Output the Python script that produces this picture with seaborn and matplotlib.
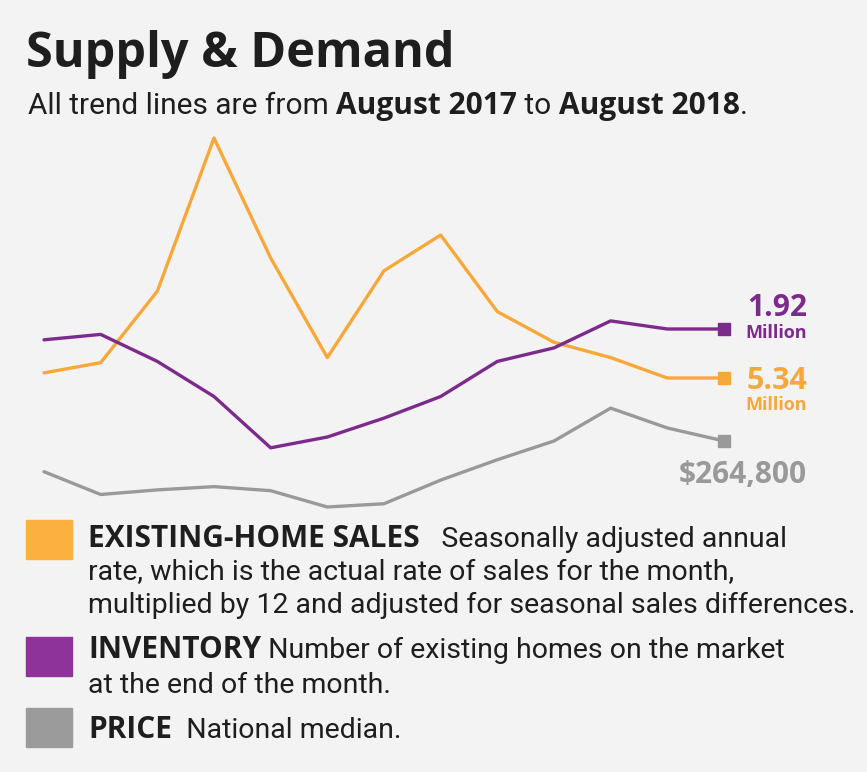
import matplotlib
matplotlib.use("Agg")
import matplotlib.pyplot as plt
import seaborn as sns
import pandas as pd

# ---- data (Aug 2017 .. Aug 2018) ----
months = ["Aug 2017", "Sep 2017", "Oct 2017", "Nov 2017", "Dec 2017", "Jan 2018", "Feb 2018",
          "Mar 2018", "Apr 2018", "May 2018", "Jun 2018", "Jul 2018", "Aug 2018"]
sales_millions = [5.35, 5.37, 5.51, 5.81, 5.575, 5.38, 5.55, 5.62, 5.47, 5.41, 5.38, 5.34, 5.34]
inventory_millions = [1.88, 1.90, 1.80, 1.67, 1.48, 1.52, 1.59, 1.67, 1.80, 1.85, 1.95, 1.92, 1.92]
price_thousands = [253.5, 245.1, 246.8, 248.0, 246.5, 240.5, 241.7, 250.4, 257.9, 264.8, 276.9, 269.6, 264.8]

sales_label = "5.34"
inventory_label = "1.92"
price_label = "$264,800"

W, H = 867, 772
BG = "#f3f3f3"
ORANGE = "#f8a73a"
PURPLE = "#7c2a8c"
GRAY = "#999999"
ORANGE_SW = "#fbb040"
PURPLE_SW = "#8e3399"
GRAY_SW = "#9b9b9b"
DARK = "#1e1e1e"

sns.set_theme(style="white")
plt.rcParams["font.family"] = ["Roboto", "DejaVu Sans"]
BOLD_FAM = ["Open Sans", "DejaVu Sans"]
REG_FAM = ["Roboto", "DejaVu Sans"]

fig = plt.figure(figsize=(W / 100, H / 100), dpi=100, facecolor=BG)

def fx(x):
    return x / W

def fy(y):
    return 1 - y / H

# plot area: pixel x 44..724, y 120..520
ax1 = fig.add_axes([fx(44), fy(520), fx(724) - fx(44), fy(120) - fy(520)])
ax2 = ax1.twinx()
ax3 = ax1.twinx()

df = pd.DataFrame({"idx": range(len(months)), "month": months,
                   "sales": sales_millions, "inventory": inventory_millions,
                   "price": price_thousands})

specs = [(ax1, "sales", ORANGE, (5.0619, 5.8453)),
         (ax2, "inventory", PURPLE, (1.2126, 2.6941)),
         (ax3, "price", GRAY, (235.71, 382.99))]
for ax, col, c, lim in specs:
    sns.lineplot(data=df, x="idx", y=col, ax=ax, color=c, linewidth=2.4, clip_on=False)
    last = df.iloc[-1]
    ax.plot([last["idx"]], [last[col]], marker="s", markersize=8, color=c,
            linestyle="none", clip_on=False)
    ax.set_ylim(*lim)
    ax.set_xlim(0, len(months) - 1)
    ax.axis("off")
ax1.patch.set_alpha(0)

# end labels
fig.text(fx(807), fy(316), inventory_label, color=PURPLE, fontsize=21.5, fontweight="bold",
         family=BOLD_FAM, ha="right", va="baseline")
fig.text(fx(807), fy(338), "Million", color=PURPLE, fontsize=13, fontweight="bold",
         family=BOLD_FAM, ha="right", va="baseline")
fig.text(fx(807), fy(389), sales_label, color=ORANGE, fontsize=22, fontweight="bold",
         family=BOLD_FAM, ha="right", va="baseline")
fig.text(fx(807), fy(410), "Million", color=ORANGE, fontsize=13, fontweight="bold",
         family=BOLD_FAM, ha="right", va="baseline")
fig.text(fx(807), fy(483), price_label, color=GRAY, fontsize=21.5, fontweight="bold",
         family=BOLD_FAM, ha="right", va="baseline")

# title / subtitle
fig.text(fx(26), fy(67), "Supply & Demand", color=DARK, fontsize=35, fontweight="bold",
         family=BOLD_FAM, va="baseline")

fig.canvas.draw()
renderer = fig.canvas.get_renderer()

def seq(parts, x, y, size, bsize=None):
    for txt, weight in parts:
        bold = weight == "bold"
        fam = BOLD_FAM if bold else REG_FAM
        s = (bsize or size) if bold else size
        t = fig.text(fx(x), fy(y), txt, color=DARK, fontsize=s, fontweight=weight,
                     family=fam, va="baseline")
        bb = t.get_window_extent(renderer)
        x = bb.x1

seq([("All trend lines are from ", "normal"), ("August 2017", "bold"), (" to ", "normal"),
     ("August 2018", "bold"), (".", "normal")], 28, 114, 21.5)

# legend
fig.patches.append(plt.Rectangle((fx(26), fy(559)), fx(72) - fx(26), fy(520) - fy(559),
                                 transform=fig.transFigure, color=ORANGE_SW))
fig.patches.append(plt.Rectangle((fx(26), fy(676)), fx(72) - fx(26), fy(637) - fy(676),
                                 transform=fig.transFigure, color=PURPLE_SW))
fig.patches.append(plt.Rectangle((fx(26), fy(747)), fx(72) - fx(26), fy(708) - fy(747),
                                 transform=fig.transFigure, color=GRAY_SW))

FS = 20.5
BS = 21.5
seq([("EXISTING-HOME SALES", "bold"), ("   Seasonally adjusted annual", "normal")], 88, 547, FS, BS)
seq([("rate, which is the actual rate of sales for the month,", "normal")], 88, 580, FS)
seq([("multiplied by 12 and adjusted for seasonal sales differences.", "normal")], 88, 613, FS)
seq([("INVENTORY", "bold"), (" Number of existing homes on the market", "normal")], 88, 658, FS, BS)
seq([("at the end of the month.", "normal")], 88, 693, FS)
seq([("PRICE", "bold"), ("  National median.", "normal")], 88, 738, FS, BS)

fig.savefig("out.png", dpi=100, facecolor=BG)
